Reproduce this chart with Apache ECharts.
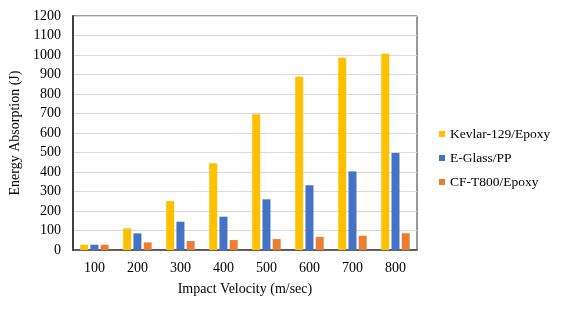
<!DOCTYPE html>
<html><head><meta charset="utf-8">
<script src="https://cdn.jsdelivr.net/npm/echarts@6/dist/echarts.min.js"></script>
<style>html,body{margin:0;padding:0;background:#fff}#c{width:567px;height:310px}</style>
</head><body><div id="c"></div>
<script>
var categories = ['100','200','300','400','500','600','700','800'];
var kevlar = [27, 111, 251, 445, 696, 888, 986, 1007];
var eglass = [27, 85, 145, 171, 260, 332, 403, 497];
var cft800 = [27, 39, 46, 51, 56, 67, 73, 86];
var seriesNames = ['Kevlar-129/Epoxy', 'E-Glass/PP', 'CF-T800/Epoxy'];
var colors = ['#FFC000', '#4472C4', '#ED7D31'];
var font = '"Liberation Serif", "Times New Roman", serif';
var chart = echarts.init(document.getElementById('c'));
function bar(name, data, color){
  return {name:name, type:'bar', data:data, barWidth:8, barGap:'28%', itemStyle:{color:color}};
}
chart.setOption({
  animation:false,
  grid:{left:70, top:16, width:347, height:234, show:true, borderColor:'#333', borderWidth:1},
  legend:{orient:'vertical', left:434, top:122, itemWidth:6, itemHeight:6, itemGap:10,
    icon:'rect', textStyle:{fontFamily:font, fontSize:13.5, color:'#000'},
    data:seriesNames},
  xAxis:{type:'category', data:categories,
    axisLine:{lineStyle:{color:'#404040', width:1.5}}, axisTick:{show:false},
    axisLabel:{fontFamily:font, fontSize:14, color:'#000', margin:11},
    name:'Impact Velocity (m/sec)', nameLocation:'middle', nameGap:32,
    nameTextStyle:{fontFamily:font, fontSize:14, color:'#000'}},
  yAxis:{type:'value', min:0, max:1200, interval:100,
    axisLine:{show:true, lineStyle:{color:'#404040', width:2}}, axisTick:{show:false},
    splitLine:{lineStyle:{color:'#d9d9d9', width:1}},
    axisLabel:{fontFamily:font, fontSize:14, color:'#000', margin:12, formatter:function(v){return String(v);}},
    name:'Energy Absorption (J)', nameLocation:'middle', nameGap:45,
    nameTextStyle:{fontFamily:font, fontSize:14, color:'#000'}},
  series:[bar(seriesNames[0], kevlar, colors[0]), bar(seriesNames[1], eglass, colors[1]), bar(seriesNames[2], cft800, colors[2])]
});
</script></body></html>
